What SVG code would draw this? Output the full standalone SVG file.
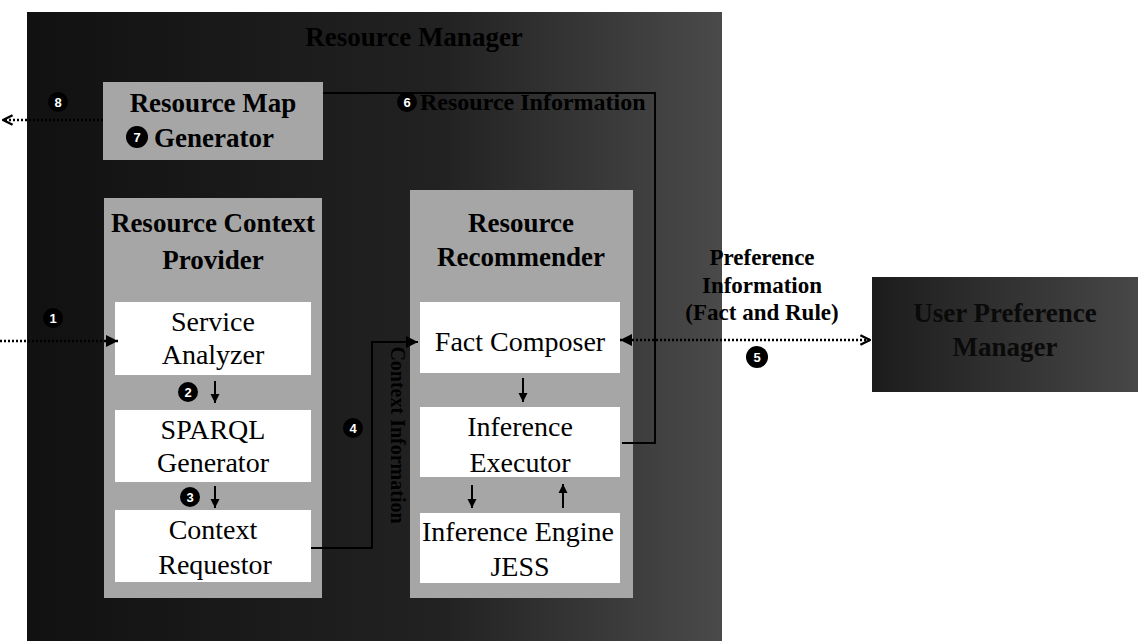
<svg xmlns="http://www.w3.org/2000/svg" width="1138" height="641" viewBox="0 0 1138 641">
<defs>
<linearGradient id="outerGrad" x1="0" y1="0" x2="1" y2="0">
<stop offset="0" stop-color="#111"/>
<stop offset="0.6" stop-color="#222"/>
<stop offset="1" stop-color="#4a4a4a"/>
</linearGradient>
<linearGradient id="upmGrad" x1="0" y1="0" x2="1" y2="0">
<stop offset="0" stop-color="#1c1c1c"/>
<stop offset="1" stop-color="#474747"/>
</linearGradient>
<marker id="tri" viewBox="0 0 10 10" refX="10" refY="5" markerWidth="12" markerHeight="16" markerUnits="userSpaceOnUse" orient="auto-start-reverse">
<path d="M0,0 L10,5 L0,10 Z" fill="#000"/>
</marker>
<marker id="chev" viewBox="0 0 10 10" refX="9" refY="5" markerWidth="12" markerHeight="14" markerUnits="userSpaceOnUse" orient="auto-start-reverse">
<path d="M1,1 L9,5 L1,9" fill="none" stroke="#000" stroke-width="2"/>
</marker>
<marker id="small" viewBox="0 0 10 10" refX="10" refY="5" markerWidth="9" markerHeight="10" markerUnits="userSpaceOnUse" orient="auto">
<path d="M0,0 L10,5 L0,10 Z" fill="#000"/>
</marker>
</defs>
<style>
.txt { font-family: "Liberation Serif", "Times New Roman", serif; font-size: 28px; fill: #000; text-anchor: middle; }
.hd { font-family: "Liberation Serif", "Times New Roman", serif; font-size: 27px; font-weight: bold; fill: #000; text-anchor: middle; }
.gray { fill: #a6a6a6; }
.white { fill: #fff; }
.num { font-family: "Liberation Sans", Arial, sans-serif; font-size: 13px; font-weight: bold; fill: #fff; text-anchor: middle; }
.dot { fill: #000; }
.dotted { fill: none; stroke: #000; stroke-width: 2.5; stroke-dasharray: 2 2; }
.solid { fill: none; stroke: #000; stroke-width: 2; }
.step { fill: none; stroke: #000; stroke-width: 2; }
</style>

<g id="system">
<rect x="27" y="12" width="695" height="629" fill="url(#outerGrad)"/>
<text class="hd" x="414" y="46">Resource Manager</text>
</g>

<g id="resource-map-generator">
<rect class="gray" x="103" y="82" width="220" height="78"/>
<text class="hd" x="213" y="112">Resource Map</text>
<text class="hd" x="214" y="147">Generator</text>
</g>

<g id="resource-context-provider">
<rect class="gray" x="104" y="198" width="218" height="400"/>
<text class="hd" x="213" y="232">Resource Context</text>
<text class="hd" x="213" y="269">Provider</text>
</g>

<g id="service-analyzer">
<rect class="white" x="115" y="302" width="196" height="73"/>
<text class="txt" x="213" y="331">Service</text>
<text class="txt" x="213" y="364">Analyzer</text>
</g>

<g id="sparql-generator">
<rect class="white" x="115" y="410" width="196" height="72"/>
<text class="txt" x="213" y="439">SPARQL</text>
<text class="txt" x="213" y="472">Generator</text>
</g>

<g id="context-requestor">
<rect class="white" x="115" y="510" width="196" height="72"/>
<text class="txt" x="213" y="539">Context</text>
<text class="txt" x="215" y="574">Requestor</text>
</g>

<g id="resource-recommender">
<rect class="gray" x="410" y="190" width="223" height="408"/>
<text class="hd" x="521" y="232">Resource</text>
<text class="hd" x="521" y="266">Recommender</text>
</g>

<g id="fact-composer">
<rect class="white" x="420" y="302" width="200" height="71"/>
<text class="txt" x="520" y="351">Fact Composer</text>
</g>

<g id="inference-executor">
<rect class="white" x="420" y="407" width="200" height="70"/>
<text class="txt" x="520" y="436">Inference</text>
<text class="txt" x="520" y="472">Executor</text>
</g>

<g id="inference-engine">
<rect class="white" x="420" y="513" width="200" height="70"/>
<text class="txt" x="518" y="541">Inference Engine</text>
<text class="txt" x="520" y="576">JESS</text>
</g>

<g id="user-preference-manager">
<rect x="872" y="277" width="266" height="115" fill="url(#upmGrad)"/>
<text class="hd" x="1005" y="322" style="fill:#0a0a0a">User Preference</text>
<text class="hd" x="1005" y="356" style="fill:#0a0a0a">Manager</text>
</g>

<g id="connectors">
<line class="dotted" x1="103" y1="120" x2="3" y2="120" marker-end="url(#chev)"/>
<line class="dotted" x1="0" y1="341" x2="118" y2="341" marker-end="url(#tri)"/>
<polyline class="solid" points="311,548 372,548 372,342 418,342" marker-end="url(#tri)"/>
<polyline class="solid" points="622,443 655,443 655,93 323,93"/>
<line class="dotted" x1="620" y1="340" x2="870" y2="340" marker-start="url(#tri)" marker-end="url(#chev)"/>
<line class="step" x1="215" y1="381" x2="215" y2="403" marker-end="url(#small)"/>
<line class="step" x1="215" y1="486" x2="215" y2="508" marker-end="url(#small)"/>
<line class="step" x1="523" y1="378" x2="523" y2="402" marker-end="url(#small)"/>
<line class="step" x1="472" y1="485" x2="472" y2="508" marker-end="url(#small)"/>
<line class="step" x1="563" y1="508" x2="563" y2="484" marker-end="url(#small)"/>
</g>

<g id="labels">
<text class="hd" x="420" y="110" style="text-anchor:start;font-size:24px">Resource Information</text>
<text class="hd" transform="translate(391,435) rotate(90)" style="font-size:20px">Context Information</text>
<text class="hd" x="762" y="265" style="font-size:23px">Preference</text>
<text class="hd" x="762" y="293" style="font-size:23px">Information</text>
<text class="hd" x="762" y="320" style="font-size:23px">(Fact and Rule)</text>
</g>

<g id="step-numbers">
<circle class="dot" cx="58" cy="102" r="10"/><text class="num" x="58" y="107">8</text>
<circle class="dot" cx="137" cy="137" r="11"/><text class="num" x="137" y="142">7</text>
<circle class="dot" cx="407" cy="102" r="10"/><text class="num" x="407" y="107">6</text>
<circle class="dot" cx="53" cy="318" r="10"/><text class="num" x="53" y="323">1</text>
<circle class="dot" cx="188" cy="392" r="10"/><text class="num" x="188" y="397">2</text>
<circle class="dot" cx="190" cy="497" r="10"/><text class="num" x="190" y="502">3</text>
<circle class="dot" cx="353" cy="428" r="10"/><text class="num" x="353" y="433">4</text>
<circle class="dot" cx="757" cy="357" r="11"/><text class="num" x="757" y="362">5</text>
</g>
</svg>
